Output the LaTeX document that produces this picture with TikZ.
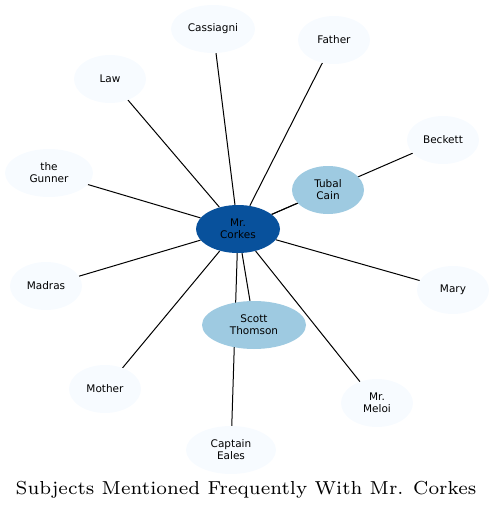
\documentclass[tikz,border=0pt]{standalone}
\usepackage{fontspec}
\newfontfamily\nodefont{DejaVu Sans}
\newfontfamily\titlefont{lmroman7-regular}[Extension=.otf]
\usetikzlibrary{shapes.geometric,backgrounds}
\definecolor{lightb}{HTML}{F7FBFF}
\definecolor{midb}{HTML}{9ECAE1}
\definecolor{darkb}{HTML}{08519C}
\begin{document}
\begin{tikzpicture}[x=1pt,y=-1pt,
  nd/.style={ellipse, fill=lightb, inner sep=0pt, minimum height=48pt, minimum width=72pt,
    align=center, font=\nodefont\fontsize{10.5}{12}\selectfont},
  mid/.style={nd, fill=midb},
  ctr/.style={nd, fill=darkb},
  edge/.style={draw=black, line width=1pt}]
\useasboundingbox (0,0) rectangle (495,511);
\node[nd, minimum width=84pt] (cass) at (213,29) {Cassiagni};
\node[nd] (father) at (334,40) {Father};
\node[nd] (law) at (110,79) {Law};
\node[nd] (beckett) at (443,140) {Beckett};
\node[nd, minimum width=88pt] (gunner) at (49,173) {the\\Gunner};
\node[mid] (tubal) at (328,190) {Tubal\\Cain};
\node[ctr, minimum width=84pt] (corkes) at (238,229) {Mr.\\Corkes};
\node[nd] (madras) at (46,286) {Madras};
\node[nd] (mary) at (453,290) {Mary};
\node[mid, minimum width=104pt] (scott) at (254,325) {Scott\\Thomson};
\node[nd, minimum width=72pt] (mother) at (105,389) {Mother};
\node[nd] (meloi) at (377,403) {Mr.\\Meloi};
\node[nd, minimum width=90pt] (eales) at (231,450) {Captain\\Eales};
\node (title) at (246,490) {\titlefont\fontsize{18.8}{22}\selectfont Subjects Mentioned Frequently With Mr. Corkes};
\begin{pgfonlayer}{background}
\foreach \t in {cass,father,law,beckett,gunner,tubal,madras,mary,scott,mother,meloi,eales}
  \draw[edge] (corkes) -- (\t);
\end{pgfonlayer}
\end{tikzpicture}
\end{document}
